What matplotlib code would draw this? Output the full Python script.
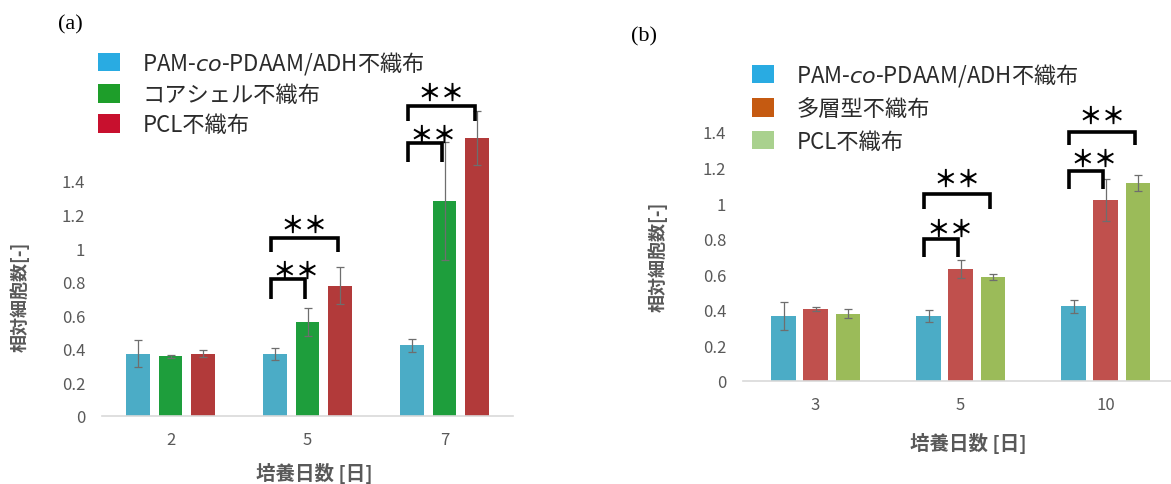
import matplotlib
matplotlib.use("Agg")
import matplotlib.pyplot as plt
from matplotlib.patches import Patch
import numpy as np

plt.rcParams['font.family'] = ['Noto Sans CJK JP', 'DejaVu Sans']
plt.rcParams['mathtext.fontset'] = 'custom'
plt.rcParams['mathtext.it'] = 'DejaVu Sans:italic'
plt.rcParams['mathtext.rm'] = 'DejaVu Sans'

# ---------------- data: panel (a) ----------------
days_a = ["2", "5", "7"]
series_a = ["PAM-$\\it{co}$-PDAAM/ADH不織布", "コアシェル不織布", "PCL不織布"]
pam_a = [0.37, 0.37, 0.42]
pam_a_err = [0.08, 0.035, 0.04]
core_a = [0.355, 0.56, 1.28]
core_a_err = [0.01, 0.085, 0.35]
pcl_a = [0.372, 0.775, 1.655]
pcl_a_err = [0.02, 0.11, 0.16]
# significance: (group, bar_i, bar_j, bracket top, leg bottom, star height)
sig_a = [(1, 0, 1, 0.816, 0.697, 0.867),
         (1, 0, 2, 1.060, 0.977, 1.140),
         (2, 0, 1, 1.626, 1.513, 1.677),
         (2, 0, 2, 1.846, 1.757, 1.927)]

# ---------------- data: panel (b) ----------------
days_b = ["3", "5", "10"]
series_b = ["PAM-$\\it{co}$-PDAAM/ADH不織布", "多層型不織布", "PCL不織布"]
pam_b = [0.365, 0.365, 0.42]
pam_b_err = [0.08, 0.035, 0.035]
multi_b = [0.405, 0.63, 1.017]
multi_b_err = [0.01, 0.05, 0.12]
pcl_b = [0.377, 0.585, 1.113]
pcl_b_err = [0.025, 0.015, 0.045]
sig_b = [(1, 0, 1, 0.798, 0.697, 0.857),
         (1, 0, 2, 1.051, 0.967, 1.138),
         (2, 0, 1, 1.180, 1.079, 1.250),
         (2, 0, 2, 1.400, 1.326, 1.490)]

yticks = [0, 0.2, 0.4, 0.6, 0.8, 1, 1.2, 1.4]
ytick_labels = ["0", "0.2", "0.4", "0.6", "0.8", "1", "1.2", "1.4"]

W, H = 1171, 485
fig = plt.figure(figsize=(W / 100, H / 100), dpi=100)

GREY = '#595959'


def panel(ax, days, vals, errs, colors, offsets, width, sigs):
    x = np.arange(len(days))
    for v, e, c, o in zip(vals, errs, colors, offsets):
        ax.bar(x + o, v, width, color=c, edgecolor='none', zorder=2)
        ax.errorbar(x + o, v, yerr=e, fmt='none', ecolor='#6e6e6e',
                    elinewidth=0.9, capsize=3, capthick=0.9, zorder=3)
    ax.set_xticks(x)
    ax.set_xticklabels(days)
    ax.set_yticks(yticks)
    ax.set_yticklabels(ytick_labels)
    for s in ['top', 'right', 'left']:
        ax.spines[s].set_visible(False)
    ax.spines['bottom'].set_color('#d9d9d9')
    ax.spines['bottom'].set_linewidth(1.2)
    ax.tick_params(axis='both', length=0, colors=GREY, labelsize=12)
    ax.tick_params(axis='x', pad=11)
    ax.tick_params(axis='y', pad=12)
    ax.set_xlim(-0.5, 2.5)
    for g, i, j, top, bot, sh in sigs:
        xl = g + offsets[i] - 0.03
        xr = g + offsets[j] - 0.02
        ax.plot([xl, xl, xr, xr], [bot, top, top, bot], color='black',
                lw=2.6, solid_joinstyle='miter', solid_capstyle='butt', zorder=4)
        sx = (xl + xr) / 2 + (0.06 if j == 1 else 0.0)
        ax.text(sx, sh, "＊＊", ha='center', va='center', fontsize=17,
                fontweight='bold', color='black', zorder=5)


# ---------- panel (a) ----------
axa = fig.add_axes([102 / W, (H - 417) / H, 411 / W, 403 / H])
axa.set_ylim(0, 403 / 167.9)
cols_a = ['#4bacc6', '#1e9e3c', '#b23a3a']
panel(axa, days_a, [pam_a, core_a, pcl_a], [pam_a_err, core_a_err, pcl_a_err],
      cols_a, [-0.24, 0.0, 0.24], 0.175, sig_a)

# ---------- panel (b) ----------
axb = fig.add_axes([743 / W, (H - 382) / H, 435 / W, 356 / H])
axb.set_ylim(0, 356 / 177.9)
cols_b = ['#4bacc6', '#c0504d', '#9bbb59']
panel(axb, days_b, [pam_b, multi_b, pcl_b], [pam_b_err, multi_b_err, pcl_b_err],
      cols_b, [-0.22, 0.0, 0.225], 0.17, sig_b)

# axis titles
fig.text(20 / W, 1 - 297 / H, "相対細胞数[-]", rotation=90, ha='center', va='center',
         fontsize=13, color=GREY, fontweight='bold')
fig.text(314 / W, 1 - 474 / H, "培養日数 [日]", ha='center', va='center',
         fontsize=14, color=GREY, fontweight='bold')
fig.text(658 / W, 1 - 257 / H, "相対細胞数[-]", rotation=90, ha='center', va='center',
         fontsize=13, color=GREY, fontweight='bold')
fig.text(968 / W, 1 - 444 / H, "培養日数 [日]", ha='center', va='center',
         fontsize=14, color=GREY, fontweight='bold')

# panel labels
fig.text(70 / W, 1 - 25 / H, "(a)", ha='center', va='center', fontsize=16,
         family='Liberation Serif')
fig.text(644 / W, 1 - 37 / H, "(b)", ha='center', va='center', fontsize=16,
         family='Liberation Serif')

# legends
leg_cols_a = ['#29abe2', '#1e9e2a', '#c8102e']
leg_cols_b = ['#29abe2', '#c55a11', '#a9d18e']
ha_ = [Patch(facecolor=c, edgecolor='none') for c in leg_cols_a]
hb_ = [Patch(facecolor=c, edgecolor='none') for c in leg_cols_b]
leg_kw = dict(loc='upper left', frameon=False, fontsize=16, handlelength=1.0,
              handleheight=0.9, handletextpad=1.0, labelcolor='#2b2b2b',
              borderaxespad=0, borderpad=0)
la = fig.legend(ha_, series_a, bbox_to_anchor=(98 / W, 1 - 50 / H),
                labelspacing=0.32, **leg_kw)
lb = fig.legend(hb_, series_b, bbox_to_anchor=(752 / W, 1 - 62 / H),
                labelspacing=0.42, **leg_kw)

fig.savefig("out.png", dpi=100, facecolor='white')
